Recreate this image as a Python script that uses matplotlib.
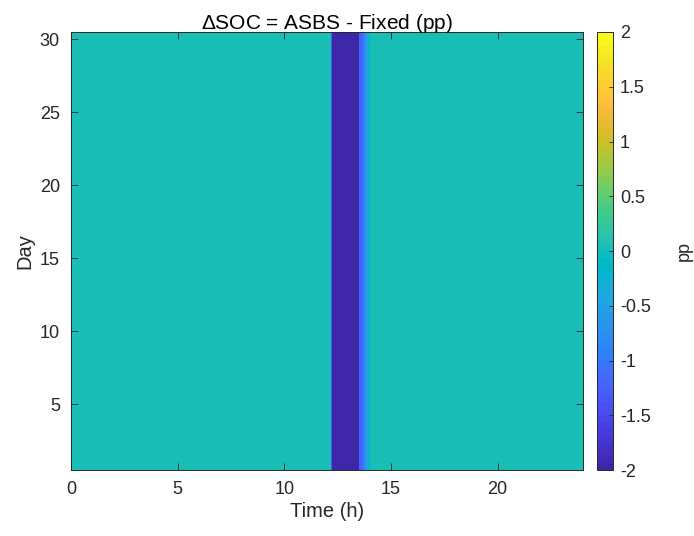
import numpy as np
import matplotlib
matplotlib.use("Agg")
import matplotlib.pyplot as plt
from matplotlib.colors import ListedColormap

# ---- data ----
days = list(range(1, 31))
dt_h = 1 / 12  # 5-minute steps
# SOC difference (pp) in the time slots where it is non-zero (identical every day)
band_start_h = [12.1667, 12.25, 13.5, 13.5833, 13.6667, 13.75, 13.8333, 13.9167]
band_end_h = [12.25, 13.5, 13.5833, 13.6667, 13.75, 13.8333, 13.9167, 14.0]
band_values = [-1.35, -2.0, -1.3, -1.15, -0.95, -0.7, -0.45, -0.2]
title = r"$\Delta$SOC = ASBS - Fixed (pp)"
xlabel = "Time (h)"
ylabel = "Day"
cbar_label = "pp"
clim = (-2, 2)
xticks = [0, 5, 10, 15, 20]
yticks = [5, 10, 15, 20, 25, 30]
cticks = [-2, -1.5, -1, -0.5, 0, 0.5, 1, 1.5, 2]

parula = [
    [0.2422, 0.1504, 0.6603], [0.2504, 0.1650, 0.7076], [0.2578, 0.1818, 0.7511],
    [0.2647, 0.1978, 0.7952], [0.2706, 0.2147, 0.8364], [0.2751, 0.2342, 0.8710],
    [0.2783, 0.2559, 0.8991], [0.2803, 0.2782, 0.9221], [0.2813, 0.3006, 0.9414],
    [0.2810, 0.3228, 0.9579], [0.2795, 0.3447, 0.9717], [0.2760, 0.3667, 0.9829],
    [0.2699, 0.3892, 0.9906], [0.2602, 0.4123, 0.9952], [0.2440, 0.4358, 0.9988],
    [0.2206, 0.4603, 0.9973], [0.1963, 0.4847, 0.9892], [0.1834, 0.5074, 0.9798],
    [0.1786, 0.5289, 0.9682], [0.1764, 0.5499, 0.9520], [0.1687, 0.5703, 0.9359],
    [0.1540, 0.5902, 0.9218], [0.1460, 0.6091, 0.9079], [0.1380, 0.6276, 0.8973],
    [0.1248, 0.6459, 0.8883], [0.1113, 0.6635, 0.8763], [0.0952, 0.6798, 0.8598],
    [0.0689, 0.6948, 0.8394], [0.0297, 0.7082, 0.8163], [0.0036, 0.7203, 0.7917],
    [0.0067, 0.7312, 0.7660], [0.0433, 0.7411, 0.7394], [0.0964, 0.7500, 0.7120],
    [0.1408, 0.7584, 0.6842], [0.1717, 0.7670, 0.6554], [0.1938, 0.7758, 0.6251],
    [0.2161, 0.7843, 0.5923], [0.2470, 0.7918, 0.5567], [0.2906, 0.7973, 0.5188],
    [0.3406, 0.8008, 0.4789], [0.3909, 0.8029, 0.4354], [0.4456, 0.8024, 0.3909],
    [0.5044, 0.7993, 0.3480], [0.5616, 0.7942, 0.3045], [0.6174, 0.7876, 0.2612],
    [0.6720, 0.7793, 0.2227], [0.7242, 0.7698, 0.1910], [0.7738, 0.7598, 0.1646],
    [0.8203, 0.7498, 0.1535], [0.8634, 0.7406, 0.1596], [0.9035, 0.7330, 0.1774],
    [0.9393, 0.7288, 0.2100], [0.9728, 0.7298, 0.2394], [0.9956, 0.7434, 0.2371],
    [0.9970, 0.7659, 0.2199], [0.9952, 0.7893, 0.2028], [0.9892, 0.8136, 0.1885],
    [0.9786, 0.8386, 0.1766], [0.9676, 0.8639, 0.1643], [0.9610, 0.8890, 0.1537],
    [0.9597, 0.9135, 0.1423], [0.9628, 0.9373, 0.1265], [0.9691, 0.9606, 0.1064],
    [0.9769, 0.9839, 0.0805]]
cmap = ListedColormap(parula)

# ---- build grid ----
t_edges = np.arange(0, 24 + dt_h / 2, dt_h)
t_centers = (t_edges[:-1] + t_edges[1:]) / 2
row = np.zeros_like(t_centers)
for s, e, v in zip(band_start_h, band_end_h, band_values):
    row[(t_centers >= s) & (t_centers < e)] = v
Z = np.tile(row, (len(days), 1))
d_edges = np.arange(days[0] - 0.5, days[-1] + 1, 1)

plt.rcParams['font.family'] = ['Liberation Sans', 'DejaVu Sans']
plt.rcParams['mathtext.fontset'] = 'custom'
plt.rcParams['mathtext.rm'] = 'Liberation Sans'
plt.rcParams['mathtext.it'] = 'Liberation Sans:italic'
fig = plt.figure(figsize=(6.94, 5.36), dpi=100)
ax = fig.add_axes([0.1023, 0.1231, 0.7377, 0.8172])
mesh = ax.pcolormesh(t_edges, d_edges, Z, cmap=cmap, vmin=clim[0], vmax=clim[1],
                     shading='flat')
ax.set_xlim(0, 24)
ax.set_ylim(0.5, 30.5)
ax.set_xticks(xticks)
ax.set_yticks(yticks)
dark = (0.15, 0.15, 0.15)
ax.tick_params(direction='in', length=5, width=0.6, colors=dark, labelsize=13,
               top=True, right=True, pad=8)
for sp in ax.spines.values():
    sp.set_color(dark)
    sp.set_linewidth(0.7)
ax.set_xlabel(xlabel, fontsize=14.5, color=dark, labelpad=3)
ax.set_ylabel(ylabel, fontsize=14.5, color=dark, labelpad=4)
ax.set_title(title, fontsize=15, color='black', pad=2)

cax = fig.add_axes([0.860, 0.1231, 0.0235, 0.8172])
cb = fig.colorbar(mesh, cax=cax, ticks=cticks)
cb.ax.set_yticklabels([f"{c:g}" for c in cticks])
cb.ax.tick_params(direction='in', length=3, width=0.6, colors=dark, labelsize=13,
                  pad=5)
cb.outline.set_edgecolor(dark)
cb.outline.set_linewidth(0.7)
cb.set_label(cbar_label, fontsize=13, color=dark, labelpad=18)

fig.savefig("out.png", dpi=100)
